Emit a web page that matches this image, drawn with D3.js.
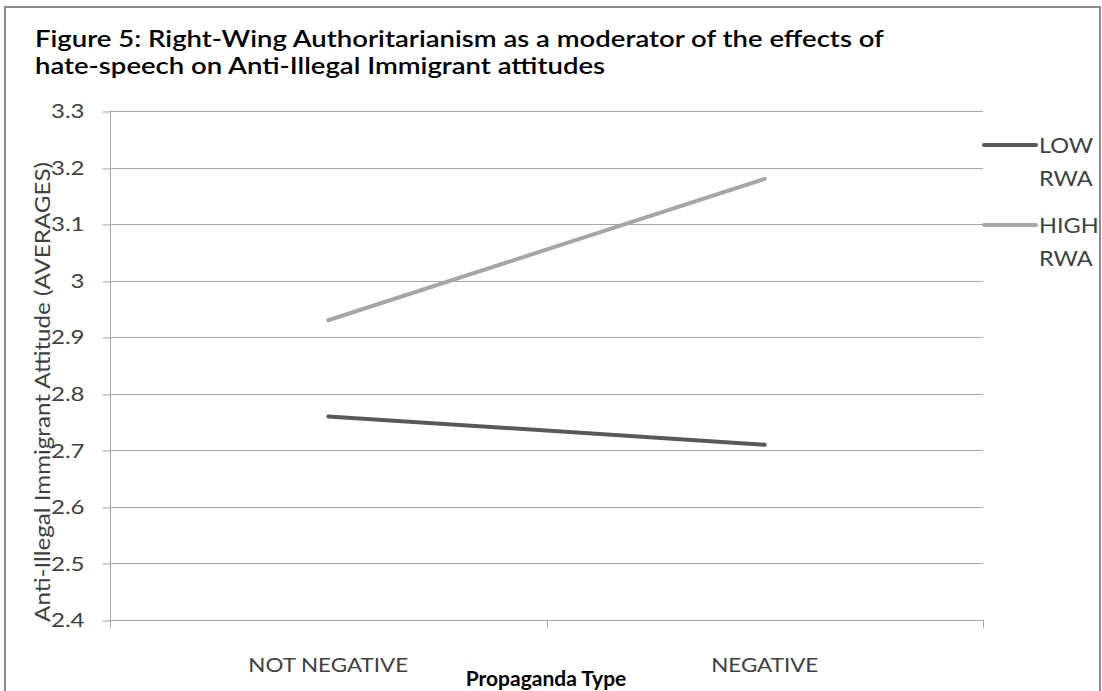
<!DOCTYPE html>
<html><head><meta charset="utf-8">
<script src="https://cdn.jsdelivr.net/npm/d3@7"></script>
<style>
body{margin:0;background:#fff;}
text{font-family:Lato,"Open Sans",sans-serif;}
</style></head>
<body><svg id="c" width="1102" height="691"></svg>
<script>
const categories = ["NOT NEGATIVE", "NEGATIVE"];
const seriesNames = ["LOW RWA", "HIGH RWA"];
const lowRWA = [2.76, 2.71];
const highRWA = [2.93, 3.18];
const yTicks = [2.4, 2.5, 2.6, 2.7, 2.8, 2.9, 3, 3.1, 3.2, 3.3];
const titleLines = ["Figure 5: Right-Wing Authoritarianism as a moderator of the effects of", "hate-speech on Anti-Illegal Immigrant attitudes"];
const xTitle = "Propaganda Type";
const yTitle = "Anti-Illegal Immigrant Attitude (AVERAGES)";

const svg = d3.select("#c");
const L = 110, R = 983, T = 111, B = 620;
const y = d3.scaleLinear().domain([2.4, 3.3]).range([B, T]);
const x = d3.scaleBand().domain(categories).range([L, R]).padding(0);
const xc = c => x(c) + x.bandwidth() / 2;
const gridC = "#a6a6a6";
const textC = "#404040";

// horizontal stretch helper (reference glyphs are wider than available fonts)
function stretch(sel, f) {
  sel.each(function () {
    const w = this.getComputedTextLength();
    d3.select(this).attr("textLength", w * f).attr("lengthAdjust", "spacingAndGlyphs");
  });
}

// outer frame
svg.append("rect").attr("x", 5).attr("y", 7).attr("width", 1095).attr("height", 700)
  .attr("fill", "#fff").attr("stroke", "#8c8c8c").attr("stroke-width", 2);

// title
const tt = svg.append("g").selectAll("text").data(titleLines).join("text")
  .attr("x", 35).attr("y", (d, i) => 47 + i * 26.5)
  .attr("font-size", 22).attr("font-weight", 600).attr("fill", "#000").text(d => d);
stretch(tt, 1.25);

// gridlines
svg.append("g").selectAll("line").data(yTicks).join("line")
  .attr("x1", L).attr("x2", R).attr("y1", d => Math.round(y(d)) + 0.5).attr("y2", d => Math.round(y(d)) + 0.5)
  .attr("stroke", gridC).attr("stroke-width", 1);

// y axis
const yAxis = d3.axisLeft(y).tickValues(yTicks).tickSize(8).tickPadding(18).tickFormat(d => d3.format("")(d));
const gy = svg.append("g").attr("transform", `translate(${L + 0.5},0)`).call(yAxis);
gy.select(".domain").remove();
gy.append("line").attr("x1", 0).attr("x2", 0).attr("y1", T).attr("y2", 628).attr("stroke", gridC);
gy.selectAll(".tick line").attr("stroke", gridC).attr("transform", d => `translate(0,${Math.round(y(d)) + 0.5 - y(d)})`);
const ytx = gy.selectAll(".tick text").attr("font-size", 18.5).attr("fill", textC).attr("dy", "0.36em")
  .attr("font-family", "Lato,sans-serif");
stretch(ytx, 1.3);

// x axis ticks (band boundaries)
const xBounds = [L, ...categories.map(c => x(c) + x.bandwidth())];
svg.append("g").selectAll("line").data(xBounds).join("line")
  .attr("x1", d => Math.round(d) + 0.5).attr("x2", d => Math.round(d) + 0.5)
  .attr("y1", B).attr("y2", 628).attr("stroke", gridC);
const xt = svg.append("g").selectAll("text").data(categories).join("text")
  .attr("x", d => xc(d)).attr("y", 672).attr("text-anchor", "middle")
  .attr("font-size", 20).attr("fill", textC).text(d => d);
stretch(xt, 1.12);
const xtt = svg.append("text").attr("x", 546).attr("y", 686).attr("text-anchor", "middle")
  .attr("font-size", 20).attr("font-weight", 700).attr("fill", "#000").text(xTitle);
stretch(xtt, 1.05);

// y title
const ytt = svg.append("text").attr("transform", "translate(50,392) rotate(-90)").attr("text-anchor", "middle")
  .attr("font-size", 21).attr("fill", textC).text(yTitle);
stretch(ytt, 1.15);

// series
const series = [
  {name: seriesNames[0], values: lowRWA, color: "#595959"},
  {name: seriesNames[1], values: highRWA, color: "#a6a6a6"}
];
const line = d3.line().x((d, i) => xc(categories[i])).y(d => y(d));
svg.append("g").selectAll("path").data(series).join("path")
  .attr("d", d => line(d.values)).attr("fill", "none").attr("stroke", d => d.color)
  .attr("stroke-width", 4).attr("stroke-linecap", "round");

// legend
const lg = svg.append("g").selectAll("g").data(series).join("g")
  .attr("transform", (d, i) => `translate(0,${145 + i * 80})`);
lg.append("line").attr("x1", 984).attr("x2", 1036).attr("y1", 0).attr("y2", 0)
  .attr("stroke", d => d.color).attr("stroke-width", 4).attr("stroke-linecap", "round");
const lt = lg.append("text").attr("font-size", 21).attr("fill", textC)
  .selectAll("tspan").data(d => d.name.split(" ")).join("tspan")
  .attr("x", 1039).attr("y", (d, i) => 8 + i * 32.5).text(d => d);
stretch(lt, 1.12);
</script></body></html>
